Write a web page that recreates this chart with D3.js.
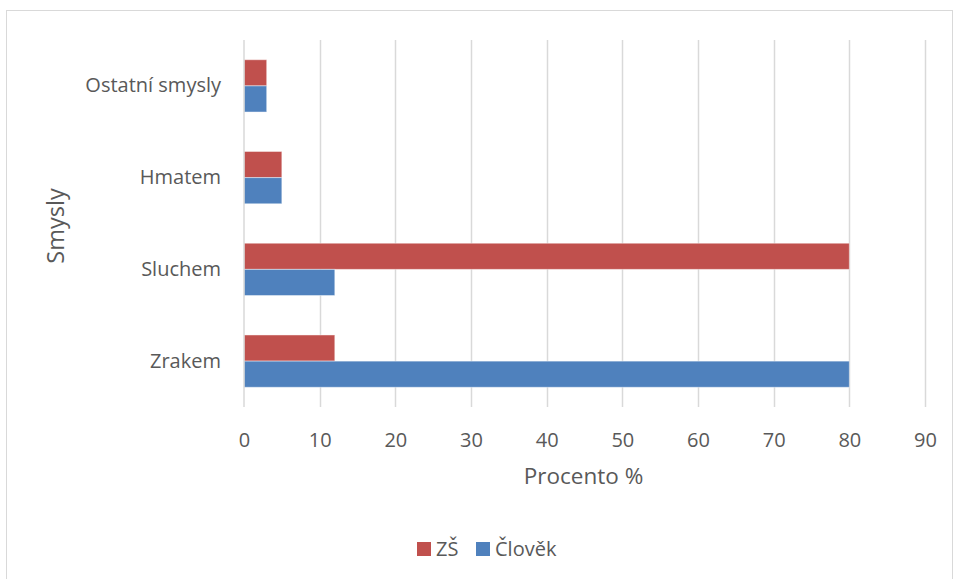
<!DOCTYPE html>
<html>
<head>
<meta charset="utf-8">
<script src="https://cdn.jsdelivr.net/npm/d3@7"></script>
<style>
  html, body { margin: 0; padding: 0; background: #fff; }
  svg text { font-family: "Open Sans", "Noto Sans", sans-serif; fill: #595959; }
</style>
</head>
<body>
<svg id="chart" width="953" height="579"></svg>
<script>
// Categories, listed top to bottom
const categories = ["Ostatní smysly", "Hmatem", "Sluchem", "Zrakem"];
const seriesNames = ["ZŠ", "Člověk"];
const zsValues = [3, 5, 80, 12];
const clovekValues = [3, 5, 12, 80];
const xTicks = [0, 10, 20, 30, 40, 50, 60, 70, 80, 90];
const colors = ["#C0504D", "#4F81BD"];

const svg = d3.select("#chart");

// outer chart frame
svg.append("rect")
  .attr("x", 6.5).attr("y", 10.5)
  .attr("width", 946).attr("height", 580)
  .attr("fill", "none").attr("stroke", "#D9D9D9").attr("stroke-width", 1);

const plot = { left: 244, right: 925, top: 40, bottom: 407 };

const x = d3.scaleLinear().domain([0, 90]).range([plot.left, plot.right]);
const y = d3.scaleBand().domain(categories).range([plot.top, plot.bottom])
  .paddingInner(0.43).paddingOuter(0.215);
const ySub = d3.scaleBand().domain(seriesNames).range([0, y.bandwidth()]);

// vertical gridlines
svg.append("g").selectAll("line").data(xTicks.slice(1)).join("line")
  .attr("x1", d => Math.round(x(d)) + 0.5).attr("x2", d => Math.round(x(d)) + 0.5)
  .attr("y1", plot.top).attr("y2", plot.bottom)
  .attr("stroke", "#D9D9D9").attr("stroke-width", 1.5);

// bars
const rows = categories.map((c, i) => ({ cat: c, vals: [zsValues[i], clovekValues[i]] }));
const groups = svg.append("g").selectAll("g").data(rows).join("g")
  .attr("transform", d => `translate(0,${y(d.cat)})`);
groups.selectAll("rect").data(d => d.vals.map((v, j) => ({ v, s: seriesNames[j], j })))
  .join("rect")
  .attr("x", x(0))
  .attr("y", d => ySub(d.s))
  .attr("width", d => x(d.v) - x(0))
  .attr("height", ySub.bandwidth())
  .attr("fill", d => colors[d.j])
  .attr("stroke", "rgba(255,255,255,0.45)")
  .attr("stroke-width", 1);

// vertical category axis line
svg.append("line")
  .attr("x1", x(0)).attr("x2", x(0))
  .attr("y1", plot.top).attr("y2", plot.bottom)
  .attr("stroke", "#D9D9D9").attr("stroke-width", 1.5);

// x axis tick labels
const xAxis = d3.axisBottom(x).tickValues(xTicks).tickSize(0).tickPadding(0);
const gx = svg.append("g").attr("transform", `translate(0,${plot.bottom})`).call(xAxis);
gx.select(".domain").remove();
gx.selectAll("text")
  .attr("dy", null).attr("y", 40)
  .style("font-size", "20px").style("font-family", "'Open Sans', sans-serif").attr("fill", "#595959");

// y axis category labels
const yAxis = d3.axisLeft(y).tickSize(0).tickPadding(0);
const gy = svg.append("g").attr("transform", `translate(${plot.left - 23},0)`).call(yAxis);
gy.select(".domain").remove();
gy.selectAll("text")
  .style("font-size", "20px").style("font-family", "'Open Sans', sans-serif").attr("fill", "#595959");

// axis titles
svg.append("text")
  .attr("x", x(45) - 1).attr("y", 484)
  .attr("text-anchor", "middle").style("font-size", "22.5px")
  .text("Procento %");
svg.append("text")
  .attr("transform", "translate(64,226) rotate(-90)")
  .attr("text-anchor", "middle").style("font-size", "23.5px")
  .text("Smysly");

// legend
const legend = svg.append("g").attr("transform", "translate(417,542)");
const legendX = [0, 59];
seriesNames.forEach((name, i) => {
  const g = legend.append("g").attr("transform", `translate(${legendX[i]},0)`);
  g.append("rect").attr("width", 14).attr("height", 14).attr("fill", colors[i]);
  g.append("text").attr("x", 19).attr("y", 13.5).style("font-size", "20px").text(name);
});
</script>
</body>
</html>
